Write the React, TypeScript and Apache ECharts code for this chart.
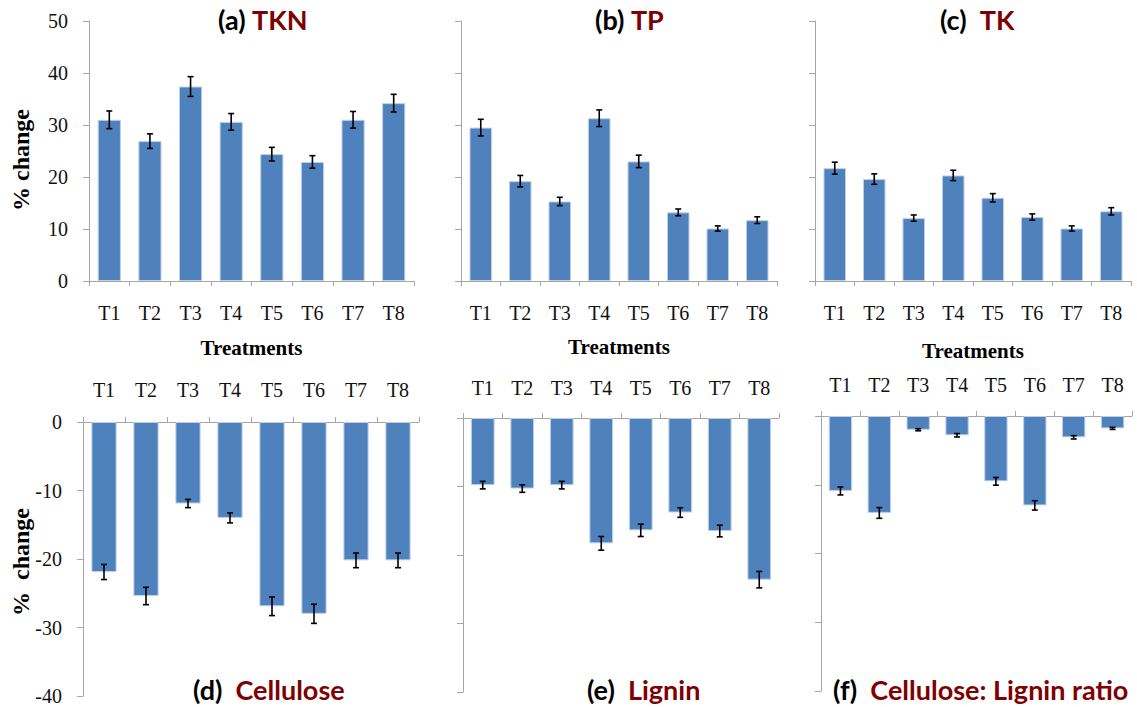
import React, { useEffect, useRef } from "react";
import * as echarts from "echarts";

const categories = ["T1", "T2", "T3", "T4", "T5", "T6", "T7", "T8"];

const tknValues = [31.0, 26.9, 37.4, 30.6, 24.4, 22.9, 31.0, 34.2];
const tknErrors = [1.7, 1.4, 1.9, 1.6, 1.3, 1.2, 1.6, 1.7];
const tpValues = [29.5, 19.2, 15.3, 31.3, 23.0, 13.2, 10.1, 11.7];
const tpErrors = [1.6, 1.1, 0.8, 1.6, 1.2, 0.65, 0.5, 0.65];
const tkValues = [21.7, 19.6, 12.1, 20.3, 16.0, 12.3, 10.1, 13.4];
const tkErrors = [1.15, 1.0, 0.6, 1.0, 0.8, 0.6, 0.5, 0.7];
const celluloseValues = [-21.9, -25.4, -11.9, -14.0, -26.9, -28.0, -20.2, -20.2];
const celluloseErrors = [1.1, 1.27, 0.6, 0.73, 1.36, 1.4, 1.07, 1.07];
const ligninValues = [-9.8, -10.3, -9.8, -18.3, -16.4, -13.8, -16.5, -23.6];
const ligninErrors = [0.55, 0.55, 0.55, 1.0, 0.9, 0.7, 0.85, 1.2];
const ratioValues = [-10.9, -14.1, -2.0, -2.8, -9.5, -13.0, -3.1, -1.8];
const ratioErrors = [0.58, 0.78, 0.15, 0.25, 0.56, 0.68, 0.24, 0.15];

const topTicks = { min: 0, max: 50, interval: 10 };
const bottomTicks = { min: -40, max: 0, interval: 10 };

const panelTitles = [
  ["(a) ", "TKN"],
  ["(b) ", "TP"],
  ["(c)  ", "TK"],
  ["(d)  ", "Cellulose"],
  ["(e)  ", "Lignin"],
  ["(f)  ", "Cellulose: Lignin ratio"],
];
const yAxisTitle = "% change";
const yAxisTitleBottom = "%  change";
const xAxisTitle = "Treatments";

const BAR = "#4F81BD";
const AXIS = "#A6A6A6";
const SERIF = "'Liberation Serif', 'Times New Roman', serif";
const SANS = "Lato, 'Open Sans', sans-serif";

const panels = [
  { values: tknValues, errors: tknErrors, grid: { left: 89, top: 21, width: 325, height: 260 }, top: true, showY: true, title: { left: 218, top: 6 }, nameGap: 56 },
  { values: tpValues, errors: tpErrors, grid: { left: 461, top: 21, width: 316, height: 260 }, top: true, showY: false, title: { left: 595, top: 6 }, nameGap: 55 },
  { values: tkValues, errors: tkErrors, grid: { left: 815, top: 21, width: 316, height: 260 }, top: true, showY: false, title: { left: 940, top: 6 }, nameGap: 59 },
  { values: celluloseValues, errors: celluloseErrors, grid: { left: 83, top: 422, width: 336, height: 274 }, top: false, showY: true, title: { left: 193, top: 676 }, labelMargin: 22 },
  { values: ligninValues, errors: ligninErrors, grid: { left: 463, top: 418, width: 316, height: 274 }, top: false, showY: false, title: { left: 587, top: 676 }, labelMargin: 20 },
  { values: ratioValues, errors: ratioErrors, grid: { left: 821, top: 416, width: 311, height: 275 }, top: false, showY: false, title: { left: 833, top: 676 }, labelMargin: 21 },
];

function buildOption() {
  const grid: any[] = [];
  const xAxis: any[] = [];
  const yAxis: any[] = [];
  const series: any[] = [];
  const title: any[] = [];

  panels.forEach((p, i) => {
    grid.push({ ...p.grid });
    xAxis.push({
      type: "category",
      gridIndex: i,
      data: categories,
      position: p.top ? "bottom" : "top",
      boundaryGap: true,
      axisLine: { onZero: false, lineStyle: { color: AXIS, width: 1 } },
      axisTick: { show: true, length: 5, lineStyle: { color: AXIS } },
      axisLabel: {
        color: "#111",
        fontFamily: SERIF,
        fontSize: 20,
        margin: p.top ? 22 : p.labelMargin,
        interval: 0,
      },
      name: p.top ? xAxisTitle : "",
      nameLocation: "middle",
      nameGap: p.nameGap || 0,
      nameTextStyle: { fontFamily: SERIF, fontWeight: "bold", fontSize: 21, color: "#000" },
    });
    const t = p.top ? topTicks : bottomTicks;
    yAxis.push({
      type: "value",
      gridIndex: i,
      min: t.min,
      max: t.max,
      interval: t.interval,
      splitLine: { show: false },
      axisLine: { show: true, lineStyle: { color: AXIS, width: 1 } },
      axisTick: { show: true, length: 6, lineStyle: { color: AXIS } },
      axisLabel: {
        show: p.showY,
        color: "#111",
        fontFamily: SERIF,
        fontSize: 20,
        margin: 21,
      },
    });
    series.push({
      type: "bar",
      xAxisIndex: i,
      yAxisIndex: i,
      data: p.values,
      barCategoryGap: p.top ? "43%" : "40%",
      itemStyle: { color: BAR, borderColor: "#BCD0E8", borderWidth: 1 },
    });
    series.push({
      type: "custom",
      xAxisIndex: i,
      yAxisIndex: i,
      data: p.values.map((v, k) => [k, v - p.errors[k], v + p.errors[k]]),
      renderItem: (params: any, api: any) => {
        const x = api.value(0);
        const lo = api.coord([x, api.value(1)]);
        const hi = api.coord([x, api.value(2)]);
        const cap = 3;
        const style = { stroke: "#000", lineWidth: 1.6 };
        return {
          type: "group",
          children: [
            { type: "line", shape: { x1: lo[0], y1: lo[1], x2: hi[0], y2: hi[1] }, style },
            { type: "line", shape: { x1: lo[0] - cap, y1: lo[1], x2: lo[0] + cap, y2: lo[1] }, style },
            { type: "line", shape: { x1: hi[0] - cap, y1: hi[1], x2: hi[0] + cap, y2: hi[1] }, style },
          ],
        };
      },
      z: 5,
    });
    title.push({
      text: `{a|${panelTitles[i][0]}}{b|${panelTitles[i][1]}}`,
      left: p.title.left,
      top: p.title.top,
      padding: 0,
      textStyle: {
        rich: {
          a: { fontFamily: SANS, fontWeight: "bold", fontSize: 27, color: "#000" },
          b: { fontFamily: SANS, fontWeight: "bold", fontSize: 27, color: "#7F0000" },
        },
      },
    });
  });

  const yNameStyle = { font: `bold 24px ${SERIF}`, fill: "#000", textAlign: "center", textVerticalAlign: "middle" };
  const graphic = [
    { type: "text", x: 21, y: 160, rotation: Math.PI / 2, style: { ...yNameStyle, text: yAxisTitle } },
    { type: "text", x: 21, y: 562, rotation: Math.PI / 2, style: { ...yNameStyle, text: yAxisTitleBottom } },
  ];

  return { animation: false, backgroundColor: "#fff", title, grid, xAxis, yAxis, series, graphic };
}

export default function App() {
  const ref = useRef<HTMLDivElement>(null);
  useEffect(() => {
    if (!ref.current) return;
    const chart = echarts.init(ref.current, undefined, { renderer: "svg" });
    chart.setOption(buildOption() as any);
    return () => chart.dispose();
  }, []);
  return (
    <div
      ref={ref}
      style={{ position: "absolute", left: 0, top: 0, width: 1137, height: 707, background: "#fff" }}
    />
  );
}
